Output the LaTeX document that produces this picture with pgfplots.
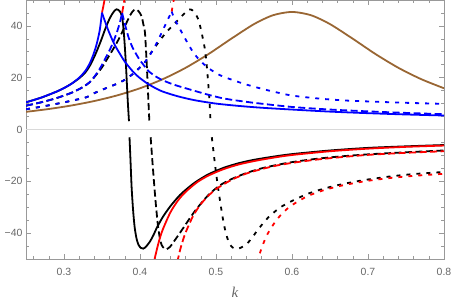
\documentclass[border=0pt]{standalone}
\usepackage{fontspec}
\setmainfont{Liberation Sans}
\newfontfamily\timesf{Liberation Serif}
\usepackage{pgfplots}
\pgfplotsset{compat=1.18}
\definecolor{framegray}{gray}{0.6}
\definecolor{labelgray}{gray}{0.4}
\definecolor{zerogray}{gray}{0.85}
\definecolor{mbrown}{rgb}{0.6,0.4,0.2}
\begin{document}
\begin{tikzpicture}
\begin{axis}[
  width=418bp, height=259bp, scale only axis,
  xmin=0.25, xmax=0.8, ymin=-50, ymax=50,
  axis line style={framegray, line width=0.8bp},
  xtick={0.3,0.4,0.5,0.6,0.7,0.8},
  xticklabels={0.3,0.4,0.5,0.6,0.7,0.8},
  minor xtick={0.26,0.28,0.32,0.34,0.36,0.38,0.42,0.44,0.46,0.48,0.52,0.54,0.56,0.58,0.62,0.64,0.66,0.68,0.72,0.74,0.76,0.78},
  ytick={-40,-20,0,20,40},
  yticklabels={−40,−20,0,20,40},
  minor ytick={-45,-35,-30,-25,-15,-10,-5,5,10,15,25,30,35,45},
  tick align=inside,
  major tick length=5bp, minor tick length=3bp,
  tick style={framegray, line width=0.6bp},
  ticklabel style={font=\fontsize{10.5}{12}\selectfont, text=labelgray},
  xticklabel style={yshift=-5.5bp},
  xlabel={\timesf\itshape k},
  xlabel style={at={(axis description cs:0.5,0)}, anchor=center, yshift=-33.5bp, font=\fontsize{15}{17}\selectfont, text=labelgray},
  every axis plot/.append style={line width=1.8bp, smooth, tension=0.45},
]
\coordinate (SW) at (rel axis cs:0,0);
\coordinate (NE) at (rel axis cs:1,1);
\draw[zerogray, line width=1bp] (rel axis cs:0,0.5) -- (rel axis cs:1,0.5);

% brown
\addplot[mbrown] coordinates {(0.25,6.81) (0.28,7.91) (0.31,9.28) (0.34,11.00) (0.37,13.17) (0.40,15.92) (0.43,19.43) (0.46,23.81) (0.49,29.10) (0.52,35.03) (0.55,40.69) (0.575,44.12) (0.60,45.40) (0.625,44.12) (0.65,40.69) (0.68,35.03) (0.71,29.10) (0.74,23.81) (0.77,19.43) (0.80,15.92)};

% black solid
\addplot[black] coordinates {(0.25,10.5) (0.27,12.3) (0.29,14.6) (0.30,16.0) (0.31,17.7) (0.32,19.8) (0.328,22.0) (0.334,24.6) (0.341,28.8) (0.348,33.8) (0.354,38.6) (0.360,42.8) (0.365,45.3) (0.369,46.4) (0.373,45.8) (0.376,44.0) (0.378,39.8) (0.3797,33.5) (0.3816,24.4) (0.3838,11.5) (0.3855,3.2)};
\addplot[black] coordinates {(0.3862,-3.0) (0.3875,-12) (0.389,-22.5) (0.391,-31.5) (0.393,-37.8) (0.3955,-42.2) (0.398,-44.5) (0.401,-45.7) (0.4043,-46.0) (0.408,-45.2) (0.413,-43.3) (0.418,-40.6) (0.422,-38.0) (0.43,-33.8) (0.44,-29.6) (0.4526,-25.3) (0.465,-22.1) (0.4746,-20.0) (0.49,-17.3) (0.51,-14.8) (0.53,-13.0) (0.55,-11.7) (0.575,-10.5) (0.6,-9.5) (0.65,-8.1) (0.7,-7.1) (0.75,-6.5) (0.8,-6.0)};
% black dashed
\addplot[black, dash pattern=on 7bp off 3.5bp] coordinates {(0.25,9.2) (0.27,10.5) (0.29,12.1) (0.31,14.2) (0.325,16.4) (0.334,18.3) (0.341,20.6) (0.350,24.0) (0.358,27.8) (0.367,32.2) (0.374,36.0) (0.380,39.8) (0.386,43.5) (0.390,45.5) (0.394,46.4) (0.398,45.7) (0.402,43.8) (0.4045,40.5) (0.4066,37.2) (0.409,24.4) (0.411,11.5) (0.4123,3.2)};
\addplot[black, dash pattern=on 7bp off 3.5bp] coordinates {(0.414,-3) (0.4165,-13) (0.4197,-25) (0.422,-32.5) (0.424,-38) (0.4263,-42.2) (0.4285,-44.6) (0.4317,-45.9) (0.435,-46.2) (0.4395,-45.3) (0.4438,-43.6) (0.45,-41.0) (0.457,-38.0) (0.465,-34.5) (0.4746,-30.6) (0.49,-25.3) (0.505,-21.6) (0.52,-19.2) (0.54,-16.8) (0.56,-15.0) (0.58,-13.7) (0.6,-12.6) (0.63,-11.4) (0.66,-10.5) (0.7,-9.6) (0.75,-8.8) (0.8,-8.1)};
% black dotted
\addplot[black, dash pattern=on 4bp off 6bp] coordinates {(0.25,7.8) (0.27,8.8) (0.29,9.9) (0.31,11.1) (0.33,12.5) (0.341,14.2) (0.36,16.5) (0.37,17.7) (0.38,19.2) (0.39,21.3) (0.40,24.0) (0.407,26.2) (0.4154,30.0) (0.4285,35.3) (0.437,38.3) (0.446,41.0) (0.453,43.2) (0.459,45.0) (0.4645,46.4) (0.469,46.0) (0.473,44.6) (0.477,42.3) (0.481,37.5) (0.4855,30.8) (0.488,24.0) (0.490,17.0) (0.4915,10.5) (0.4928,3.2)};
\addplot[black, dash pattern=on 4bp off 6bp] coordinates {(0.4945,-3) (0.4965,-8) (0.4987,-13.5) (0.502,-21) (0.5053,-27.5) (0.5085,-33.5) (0.5118,-38.5) (0.515,-42) (0.518,-44.2) (0.522,-45.6) (0.527,-46.1) (0.533,-45.6) (0.540,-44.3) (0.547,-42.0) (0.5536,-39.3) (0.562,-36.2) (0.571,-33.3) (0.585,-30.0) (0.6,-27.6) (0.62,-24.9) (0.64,-23.0) (0.66,-21.5) (0.68,-20.3) (0.7,-19.3) (0.73,-18.1) (0.76,-17.2) (0.8,-16.4)};

% red
\addplot[red] coordinates {(0.3500,45.1) (0.3515,47.2) (0.353,49.5) (0.3545,52)};
\addplot[red] coordinates {(0.418,-51.8) (0.42,-49.0) (0.425,-43.1) (0.43,-38.6) (0.44,-32.0) (0.45,-27.4) (0.46,-24.1) (0.475,-20.4) (0.49,-17.8) (0.51,-15.3) (0.53,-13.5) (0.55,-12.2) (0.575,-10.9) (0.6,-9.85) (0.65,-8.4) (0.7,-7.4) (0.75,-6.7) (0.8,-6.2)};
\addplot[red, dash pattern=on 7bp off 3.5bp] coordinates {(0.3765,45.0) (0.378,47.5) (0.3795,50) (0.381,52.5)};
\addplot[red, dash pattern=on 7bp off 3.5bp] coordinates {(0.449,-51.3) (0.452,-47.4) (0.455,-44.2) (0.46,-39.8) (0.47,-33.3) (0.48,-28.8) (0.49,-25.6) (0.5,-23.0) (0.52,-19.5) (0.54,-17.0) (0.56,-15.3) (0.58,-13.9) (0.6,-12.9) (0.63,-11.7) (0.66,-10.8) (0.7,-9.8) (0.75,-9.0) (0.8,-8.4)};
\addplot[red, dash pattern=on 4bp off 6bp] coordinates {(0.4417,45.5) (0.443,47.8) (0.4445,50.2) (0.446,52.5)};
\addplot[red, dash pattern=on 4bp off 6bp] coordinates {(0.554,-51.5) (0.556,-49.4) (0.56,-45.8) (0.565,-42.1) (0.57,-39.2) (0.58,-34.8) (0.59,-31.6) (0.6,-29.2) (0.62,-25.8) (0.64,-23.6) (0.66,-22.0) (0.68,-20.8) (0.7,-19.8) (0.73,-18.7) (0.76,-17.9) (0.8,-17.1)};

% blue solid
\addplot[blue] coordinates {(0.25,10.5) (0.27,12.3) (0.29,14.6) (0.30,16.0) (0.31,17.7) (0.32,20.0) (0.328,22.6) (0.334,25.6) (0.339,29.2) (0.343,33.0) (0.347,38.3) (0.350,45.1)};
\addplot[blue] coordinates {(0.350,45.1) (0.353,42.5) (0.358,38.5) (0.363,35.0) (0.367,32.5) (0.374,29.0) (0.380,26.2) (0.390,22.6) (0.398,20.3) (0.411,17.5) (0.4285,14.8) (0.45,12.8) (0.472,11.3) (0.5,10.0) (0.53,9.1) (0.56,8.4) (0.6,7.7) (0.65,6.9) (0.7,6.3) (0.75,5.8) (0.8,5.4)};
% blue dashed
\addplot[blue, dash pattern=on 7bp off 3.5bp] coordinates {(0.25,9.2) (0.27,10.5) (0.29,12.1) (0.31,14.2) (0.325,16.4) (0.334,18.3) (0.341,20.8) (0.348,23.9) (0.354,27.2) (0.360,30.6) (0.365,33.9) (0.370,37.9) (0.3735,41.3) (0.3765,45.0)};
\addplot[blue, dash pattern=on 7bp off 3.5bp] coordinates {(0.3765,45.0) (0.379,42.0) (0.3846,35.9) (0.390,31.8) (0.398,27.6) (0.405,24.8) (0.411,22.6) (0.42,20.6) (0.4285,19.2) (0.44,17.8) (0.45,16.8) (0.472,14.9) (0.49,13.4) (0.505,12.3) (0.52,11.5) (0.55,10.3) (0.6,8.7) (0.65,7.7) (0.7,7.0) (0.75,6.4) (0.8,5.9)};
% blue dotted
\addplot[blue, dash pattern=on 4bp off 6bp] coordinates {(0.25,7.8) (0.27,8.8) (0.29,9.9) (0.31,11.1) (0.33,12.5) (0.341,14.2) (0.36,16.5) (0.37,17.7) (0.38,19.2) (0.39,21.3) (0.40,24.0) (0.407,26.2) (0.414,29.2) (0.42,32.3) (0.426,35.8) (0.433,40.2) (0.4375,43.0) (0.4417,45.5)};
\addplot[blue, dash pattern=on 4bp off 6bp] coordinates {(0.4417,45.5) (0.445,43.0) (0.45,40.2) (0.459,35.3) (0.47,29.8) (0.48,26.3) (0.492,23.3) (0.505,21.0) (0.518,19.5) (0.535,17.8) (0.549,16.6) (0.57,15.0) (0.6,13.1) (0.637,11.9) (0.67,11.2) (0.703,10.8) (0.75,10.3) (0.8,9.9)};
\end{axis}
\pgfresetboundingbox
\path[use as bounding box] ([xshift=-26bp,yshift=-46bp]SW) rectangle ([xshift=10bp]NE);
\end{tikzpicture}
\end{document}
